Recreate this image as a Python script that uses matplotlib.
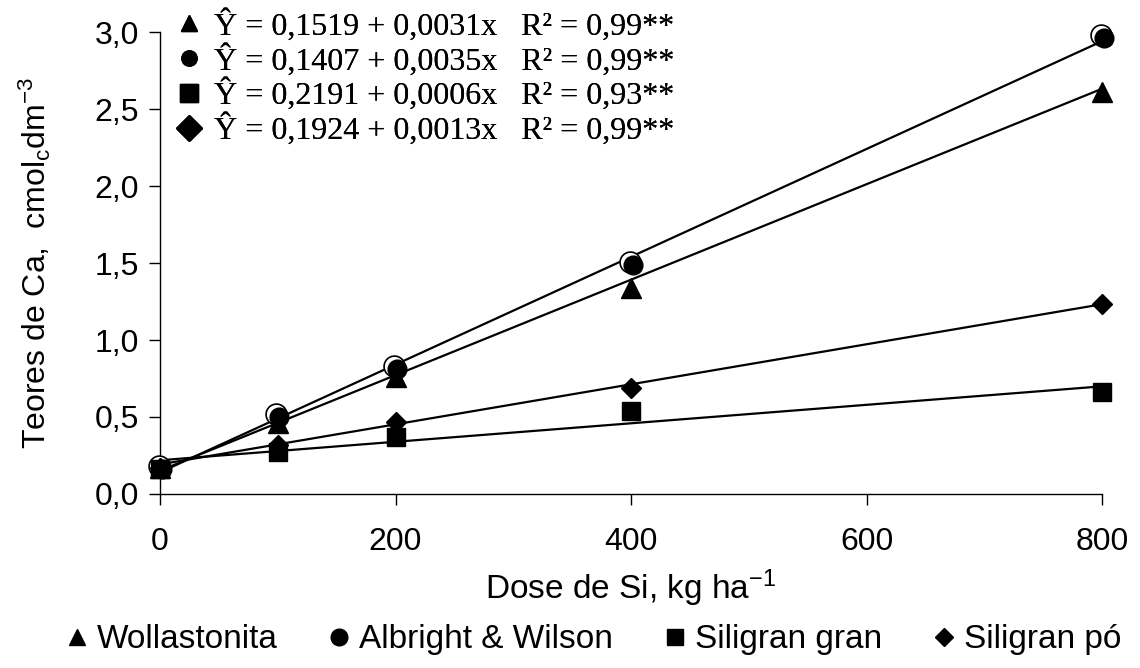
import matplotlib
matplotlib.use('Agg')
import matplotlib.pyplot as plt
from matplotlib.lines import Line2D
from matplotlib.transforms import offset_copy
import numpy as np

plt.rcParams['font.family'] = ['Liberation Sans', 'DejaVu Sans']
plt.rcParams['mathtext.fontset'] = 'custom'
plt.rcParams['mathtext.rm'] = 'Liberation Sans'
plt.rcParams['mathtext.it'] = 'Liberation Sans:italic'

# doses de Si (kg/ha)
doses = [0, 100, 200, 400, 800]

wollastonita = [0.17, 0.46, 0.76, 1.34, 2.61]
albright = [0.17, 0.51, 0.82, 1.50, 2.97]
sil_gran = [0.16, 0.27, 0.37, 0.54, 0.66]
sil_po = [0.17, 0.32, 0.47, 0.69, 1.235]

# coeficientes das regressoes (a + b*x)
coef_a = [0.1519, 0.1407, 0.2191, 0.1924]
coef_b = [0.0031, 0.0035, 0.0006, 0.0013]
r2 = ['0,99**', '0,99**', '0,93**', '0,99**']

nomes = ['Wollastonita', 'Albright & Wilson', 'Siligran gran', 'Siligran pó']
marcadores = ['^', 'o', 's', 'D']
tamanhos = [14, 15, 13.5, 10]

series = [wollastonita, albright, sil_gran, sil_po]

fig = plt.figure(figsize=(11.4, 6.68), dpi=100)
ax = fig.add_axes([0.1404, 0.2605, 0.9667 - 0.1404, 0.952 - 0.2605])

xr = np.array([0, 800])
for i in range(4):
    ax.plot(xr, coef_a[i] + coef_b[i] * xr, color='black', lw=1.6, zorder=2)

for i in range(4):
    if marcadores[i] == 'o':
        # circulo aberto com circulo cheio deslocado
        t1 = offset_copy(ax.transData, fig=fig, x=-1.5, y=1.5, units='dots')
        t2 = offset_copy(ax.transData, fig=fig, x=1.5, y=-1.5, units='dots')
        ax.plot(doses, series[i], 'o', ms=tamanhos[i], mfc='white', mec='black',
                mew=1.2, transform=t1, clip_on=False, zorder=3)
        ax.plot(doses, series[i], 'o', ms=tamanhos[i] - 1.5, mfc='black', mec='black',
                transform=t2, clip_on=False, zorder=4)
    else:
        ax.plot(doses, series[i], marcadores[i], ms=tamanhos[i], color='black',
                clip_on=False, zorder=4)

ax.set_xlim(0, 800)
ax.set_ylim(0, 3.0)
ax.set_xticks([0, 200, 400, 600, 800])
yt = np.arange(0, 3.01, 0.5)
ax.set_yticks(yt)
ax.set_yticklabels([('%.1f' % v).replace('.', ',') for v in yt])
ax.tick_params(labelsize=23, length=8, width=1, direction='out')
ax.tick_params(axis='x', pad=16)
ax.tick_params(axis='y', pad=7)
ax.spines['top'].set_visible(False)
ax.spines['right'].set_visible(False)
ax.spines['left'].set_linewidth(1)
ax.spines['bottom'].set_linewidth(1)

ax.set_xlabel('Dose de Si, kg ha$^{-1}$', fontsize=24, labelpad=7)
ax.set_ylabel('Teores de Ca,  cmol$_{\\mathrm{c}}$dm$^{-3}$', fontsize=23, labelpad=30)

# legenda das equacoes
eq_handles = []
eq_labels = []
for i in range(4):
    eq_handles.append(Line2D([], [], marker=marcadores[i], ls='none', color='black',
                             ms=[12, 11, 13, 13][i]))
    eq_labels.append('Ŷ = %s + %sx   R² = %s' % (('%.4f' % coef_a[i]).replace('.', ','),
                                                 ('%.4f' % coef_b[i]).replace('.', ','), r2[i]))
leg1 = ax.legend(eq_handles, eq_labels, loc='upper left', bbox_to_anchor=(0.0, 1.085),
                 frameon=False, prop={'family': 'Liberation Serif', 'size': 23},
                 handlelength=0.8, handletextpad=0.4, labelspacing=0.07, borderpad=0)
ax.add_artist(leg1)

# legenda inferior
bot_handles = [Line2D([], [], marker=marcadores[i], ls='none', color='black',
                      ms=[11, 12, 11, 9][i]) for i in range(4)]
fig.legend(bot_handles, nomes, loc='center', bbox_to_anchor=(0.521, 0.042), ncol=4,
           frameon=False, fontsize=24, handlelength=0.6, handletextpad=0.3,
           columnspacing=1.55)

fig.savefig('out.png', dpi=100)
